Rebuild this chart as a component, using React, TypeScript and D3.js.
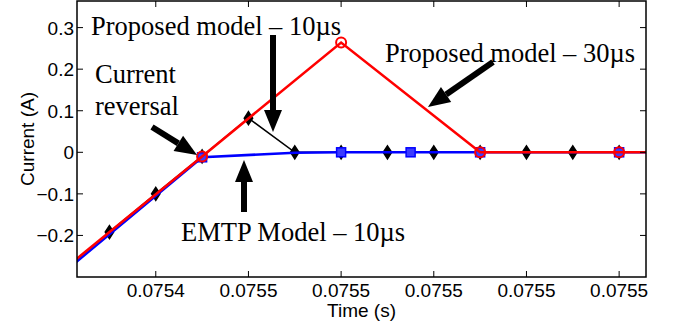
import * as d3 from 'd3'
import React from 'react'

// time (s) and current (A)
const blackT = [0.07543, 0.07544, 0.07545, 0.07546, 0.07547, 0.07548, 0.07549, 0.0755, 0.07551, 0.07552, 0.07553, 0.07554]
const blackI = [-0.192, -0.1, -0.01, 0.082, 0, 0, 0, 0, 0, 0, 0, 0]
const blueT = [0.07542, 0.07545, 0.07547, 0.07548, 0.075495, 0.07551, 0.07554, 0.075546]
const blueI = [-0.29, -0.012, -0.001, 0, 0, 0, 0, 0]
const blueMarks = [1, 3, 4, 5, 6]
const redT = [0.07542, 0.07545, 0.07548, 0.07551, 0.07554, 0.075546]
const redI = [-0.283, -0.01, 0.264, 0, 0, 0]
const redMarks = [1, 2, 3, 4]
const xTicks = [0.07544, 0.07546, 0.07548, 0.0755, 0.07552, 0.07554]
const yTicks = [-0.2, -0.1, 0, 0.1, 0.2, 0.3]

const W = 675, H = 322
const m = { l: 77, r: 29, t: 1, b: 45 }
const serif = '"Liberation Serif", "Times New Roman", serif'
const sans = '"Liberation Sans", Arial, sans-serif'

const Arrow = ({ x1, y1, x2, y2 }: { x1: number, y1: number, x2: number, y2: number }) => {
    const a = Math.atan2(y2 - y1, x2 - x1)
    const hl = 22, hw = 9
    const bx = x2 - hl * Math.cos(a), by = y2 - hl * Math.sin(a)
    const px = -Math.sin(a), py = Math.cos(a)
    return (
        <g>
            <line x1={x1} y1={y1} x2={bx} y2={by} stroke="black" strokeWidth={6} />
            <polygon points={`${x2},${y2} ${bx + px * hw},${by + py * hw} ${bx - px * hw},${by - py * hw}`} fill="black" />
        </g>
    )
}

// matlab style 'd' marker, a bit taller than wide
const diamondPts = (cx: number, cy: number) => `${cx},${cy - 6.5} ${cx + 4.2},${cy} ${cx},${cy + 6.5} ${cx - 4.2},${cy}`

export default function App() {
    const x = d3.scaleLinear().domain([0.075423, 0.0755458]).range([m.l, W - m.r])
    const y = d3.scaleLinear().domain([-0.3, 0.364]).range([H - m.b, m.t])
    const line = d3.line<[number, number]>().x(d => x(d[0])).y(d => y(d[1]))
    const blk = blackT.map((t, i) => [t, blackI[i]] as [number, number])
    const blu = blueT.map((t, i) => [t, blueI[i]] as [number, number])
    const red = redT.map((t, i) => [t, redI[i]] as [number, number])
    const fmt = d3.format('.4f')
    const x0 = m.l, x1 = W - m.r, y0 = m.t, y1 = H - m.b
    const tk = 6

    return (
        <svg width={W} height={H} style={{ position: 'absolute', left: 0, top: 0, background: 'white' }}>
            <defs>
                <clipPath id="plot"><rect x={x0} y={y0} width={x1 - x0} height={y1 - y0} /></clipPath>
            </defs>
            <g clipPath="url(#plot)">
                <path d={line(blk) || ''} fill="none" stroke="black" strokeWidth={1.6} />
                {blk.map((d, i) => (
                    <polygon key={i} points={diamondPts(x(d[0]), y(d[1]))} fill="black" stroke="black" strokeWidth={1.5} />
                ))}
                <path d={line(blu) || ''} fill="none" stroke="#0000ff" strokeWidth={2.6} />
                {blueMarks.map(i => (
                    <rect key={i} x={x(blu[i][0]) - 4.5} y={y(blu[i][1]) - 4.5} width={9} height={9}
                        fill="#3b3bff" stroke="#0000ff" strokeWidth={1.5} />
                ))}
                <path d={line(red) || ''} fill="none" stroke="#ff0000" strokeWidth={2.6} />
                {redMarks.map(i => (
                    <circle key={i} cx={x(red[i][0])} cy={y(red[i][1])} r={5} fill="none" stroke="#ff0000" strokeWidth={2} />
                ))}
            </g>
            <rect x={x0} y={y0} width={x1 - x0} height={y1 - y0} fill="none" stroke="black" strokeWidth={1.5} />
            {xTicks.map((t, i) => (
                <g key={i}>
                    <line x1={x(t)} x2={x(t)} y1={y1} y2={y1 - tk} stroke="black" />
                    <line x1={x(t)} x2={x(t)} y1={y0} y2={y0 + tk} stroke="black" />
                    <text x={x(t)} y={y1 + 20} textAnchor="middle" fontFamily={sans} fontSize={19}>{fmt(t)}</text>
                </g>
            ))}
            {yTicks.map((v, i) => (
                <g key={i}>
                    <line x1={x0} x2={x0 + tk} y1={y(v)} y2={y(v)} stroke="black" />
                    <line x1={x1} x2={x1 - tk} y1={y(v)} y2={y(v)} stroke="black" />
                    <text x={x0 - 3} y={y(v) + 7} textAnchor="end" fontFamily={sans} fontSize={19}>{v === 0 ? '0' : d3.format('.1f')(v)}</text>
                </g>
            ))}
            <text x={(x0 + x1) / 2} y={317} textAnchor="middle" fontFamily={sans} fontSize={19}>Time (s)</text>
            <text transform={`translate(34,${(y0 + y1) / 2}) rotate(-90)`} textAnchor="middle" fontFamily={sans} fontSize={19}>Current (A)</text>

            <Arrow x1={152} y1={127} x2={197} y2={155} />
            <Arrow x1={273} y1={35} x2={273} y2={132} />
            <Arrow x1={244} y1={212} x2={244} y2={160} />
            <Arrow x1={493} y1={62} x2={428} y2={107} />

            <g fontFamily={serif} fontSize={26.5}>
                <text x={91} y={35}>Proposed model – 10µs</text>
                <text x={95} y={83}>Current</text>
                <text x={95} y={115}>reversal</text>
                <text x={181} y={241}>EMTP Model – 10µs</text>
                <text x={385} y={62}>Proposed model – 30µs</text>
            </g>
        </svg>
    )
}
